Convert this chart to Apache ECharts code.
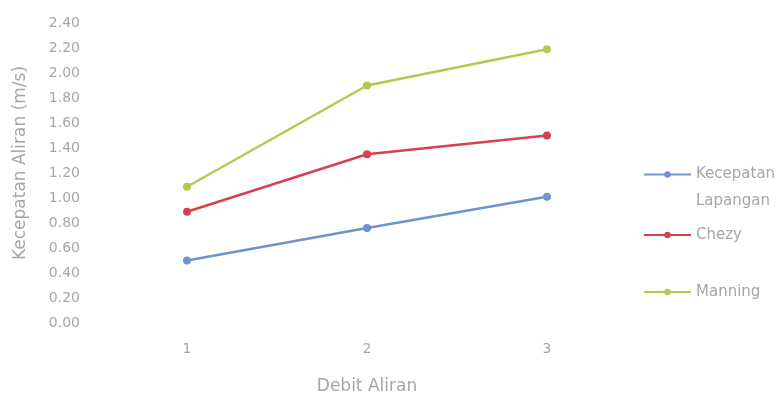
<!DOCTYPE html>
<html>
<head>
<meta charset="utf-8">
<script src="https://cdn.jsdelivr.net/npm/echarts@6/dist/echarts.min.js"></script>
<style>html,body{margin:0;padding:0;background:#fff;}#c{width:784px;height:400px;}</style>
</head>
<body>
<div id="c"></div>
<script>
var categories = ['1', '2', '3'];
var kecepatanLapangan = [0.50, 0.76, 1.01];
var chezy = [0.89, 1.35, 1.50];
var manning = [1.09, 1.90, 2.19];
var yTicks = ['0.00','0.20','0.40','0.60','0.80','1.00','1.20','1.40','1.60','1.80','2.00','2.20','2.40'];

var FONT = 'DejaVu Sans';
var TXT = '#a6a6a6';
var chart = echarts.init(document.getElementById('c'));
function mkSeries(name, data, color) {
  return {
    name: name, type: 'line', data: data,
    symbol: 'circle', symbolSize: 8,
    lineStyle: { color: color, width: 2.5 },
    itemStyle: { color: color },
    z: 3
  };
}
function mkLegend(name, top, lh) {
  return {
    data: [name], left: 643, top: top, orient: 'vertical', padding: 0,
    itemWidth: 47, itemHeight: 8, itemGap: 7,
    textStyle: { color: TXT, fontFamily: FONT, fontSize: 15, lineHeight: lh },
    formatter: function (n) { return n === 'Kecepatan Lapangan' ? ' \nKecepatan\nLapangan' : n; }
  };
}
chart.setOption({
  backgroundColor: '#ffffff',
  animation: false,
  grid: { left: 97, right: 147, top: 23, bottom: 77 },
  legend: [mkLegend('Kecepatan Lapangan', 134, 27), mkLegend('Chezy', 226, 18), mkLegend('Manning', 283, 18)],
  xAxis: {
    type: 'category', data: categories, boundaryGap: true,
    name: 'Debit Aliran', nameLocation: 'middle', nameGap: 55,
    nameTextStyle: { color: TXT, fontFamily: FONT, fontSize: 17 },
    axisLine: { show: false }, axisTick: { show: false },
    axisLabel: { color: TXT, fontFamily: FONT, fontSize: 14, margin: 19 }
  },
  yAxis: {
    type: 'value', min: 0, max: 2.4, interval: 0.2,
    name: 'Kecepatan Aliran (m/s)', nameLocation: 'middle', nameGap: 68,
    nameTextStyle: { color: TXT, fontFamily: FONT, fontSize: 17, padding: [0, 0, 0, 20] },
    axisLine: { show: false }, axisTick: { show: false },
    splitLine: { show: false },
    axisLabel: { color: TXT, fontFamily: FONT, fontSize: 14, margin: 17,
      formatter: function (v) { return yTicks[Math.round(v / 0.2)]; } }
  },
  series: [
    mkSeries('Kecepatan Lapangan', kecepatanLapangan, '#6f93cf'),
    mkSeries('Chezy', chezy, '#d6404f'),
    mkSeries('Manning', manning, '#b9c74f')
  ]
});
</script>
</body>
</html>
